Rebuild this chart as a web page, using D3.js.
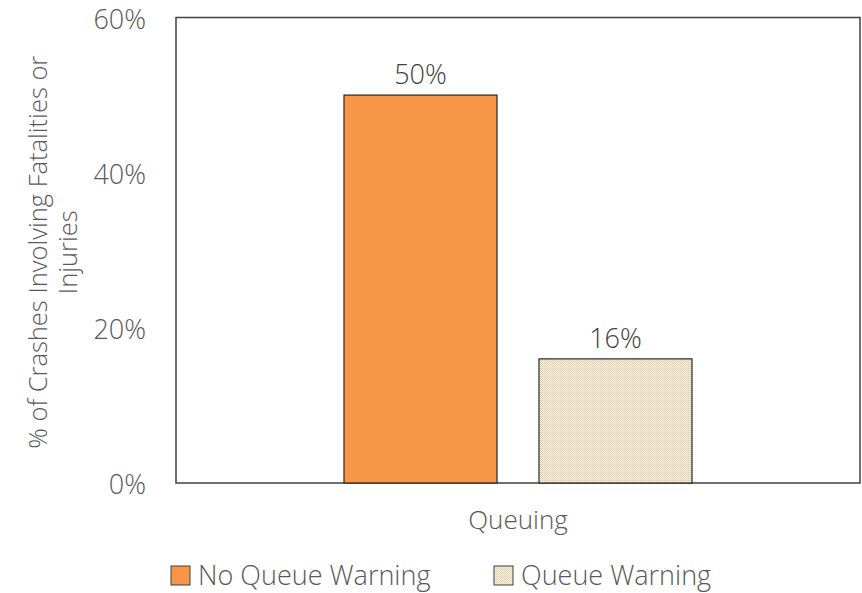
<!DOCTYPE html>
<html>
<head>
<meta charset="utf-8">
<script src="https://cdn.jsdelivr.net/npm/d3@7"></script>
<style>
  html, body { margin: 0; padding: 0; background: #fff; }
  svg { display: block; font-family: "Open Sans", "Noto Sans", sans-serif; }
</style>
</head>
<body>
<svg id="chart" width="862" height="593"></svg>
<script>
// Chart data
const categories = ["Queuing"];
const seriesNames = ["No Queue Warning", "Queue Warning"];
const noWarningValues = [0.50];
const warningValues = [0.16];
const yTicks = [0, 0.2, 0.4, 0.6];
const yTitleLines = ["% of Crashes Involving Fatalities or", "Injuries"];

const values = [noWarningValues, warningValues];

const svg = d3.select("#chart");
const margin = { left: 176, right: 2, top: 17.5, bottom: 110 };
const W = 862, H = 593;
const plotLeft = margin.left, plotRight = W - margin.right;
const plotTop = margin.top, plotBottom = H - margin.bottom;

const textColor = "#595959";
const fontSize = 26;
const fontWeight = 350;

// Dotted fill for the "Queue Warning" bars
const defs = svg.append("defs");
const pat = defs.append("pattern")
  .attr("id", "dots")
  .attr("patternUnits", "userSpaceOnUse")
  .attr("width", 2).attr("height", 2);
pat.append("rect").attr("width", 2).attr("height", 2).attr("fill", "#f6efe2");
pat.append("rect").attr("x", 0).attr("y", 0).attr("width", 1).attr("height", 1).attr("fill", "#d9c8a6");
pat.append("rect").attr("x", 1).attr("y", 1).attr("width", 1).attr("height", 1).attr("fill", "#e6d9c0");

const fills = ["#f79646", "url(#dots)"];

const y = d3.scaleLinear().domain([0, 0.6]).range([plotBottom, plotTop]);
const x0 = d3.scaleBand().domain(categories).range([plotLeft, plotRight])
  .paddingInner(0).paddingOuter(0.4828);
const x1 = d3.scaleBand().domain(seriesNames).range([0, x0.bandwidth()])
  .paddingInner(0.2154).paddingOuter(0);

// Plot frame
svg.append("rect")
  .attr("x", plotLeft).attr("y", plotTop)
  .attr("width", plotRight - plotLeft).attr("height", plotBottom - plotTop)
  .attr("fill", "none").attr("stroke", "#404040").attr("stroke-width", 1.5);

// Bars with value labels
categories.forEach((cat, ci) => {
  seriesNames.forEach((s, si) => {
    const v = values[si][ci];
    const bx = x0(cat) + x1(s);
    svg.append("rect")
      .attr("x", bx).attr("y", y(v))
      .attr("width", x1.bandwidth()).attr("height", y(0) - y(v))
      .attr("fill", fills[si])
      .attr("stroke", "#262626").attr("stroke-width", 1.2);
    svg.append("text")
      .attr("x", bx + x1.bandwidth() / 2).attr("y", y(v) - 11)
      .attr("text-anchor", "middle")
      .attr("font-size", fontSize + 1).attr("font-weight", fontWeight).attr("fill", "#404040")
      .text(d3.format(".0%")(v));
  });
});

// Y axis labels
const yAxis = d3.axisLeft(y).tickValues(yTicks).tickFormat(d3.format(".0%")).tickSize(0).tickPadding(30);
const yg = svg.append("g").attr("transform", `translate(${plotLeft},2)`).call(yAxis);
yg.select(".domain").remove();
yg.selectAll("text").attr("font-size", fontSize + 1).attr("font-weight", fontWeight).attr("fill", textColor)
  .attr("font-family", "\"Open Sans\", sans-serif");

// X axis labels
const xAxis = d3.axisBottom(x0).tickSize(0).tickPadding(28);
const xg = svg.append("g").attr("transform", `translate(0,${plotBottom})`).call(xAxis);
xg.select(".domain").remove();
xg.selectAll("text").attr("font-size", fontSize).attr("font-weight", fontWeight).attr("fill", textColor)
  .attr("font-family", "\"Open Sans\", sans-serif");

// Y axis title (two lines)
const titleCy = (plotTop + plotBottom) / 2 + 2;
const yt = svg.append("text")
  .attr("transform", `translate(47,${titleCy}) rotate(-90)`)
  .attr("text-anchor", "middle").attr("font-size", fontSize - 0.5).attr("font-weight", fontWeight)
  .attr("fill", textColor);
yTitleLines.forEach((line, i) => {
  yt.append("tspan").attr("x", 0).attr("dy", i === 0 ? 0 : 30).text(line);
});

// Legend
const legendItems = [
  { name: seriesNames[0], fill: fills[0], x: 171 },
  { name: seriesNames[1], fill: fills[1], x: 494 }
];
const lg = svg.append("g");
legendItems.forEach(d => {
  lg.append("rect").attr("x", d.x).attr("y", 566).attr("width", 19).attr("height", 19)
    .attr("fill", d.fill).attr("stroke", "#404040").attr("stroke-width", 1);
  lg.append("text").attr("x", d.x + 27).attr("y", 585)
    .attr("font-size", fontSize + 1).attr("font-weight", fontWeight).attr("fill", textColor).text(d.name);
});
</script>
</body>
</html>
